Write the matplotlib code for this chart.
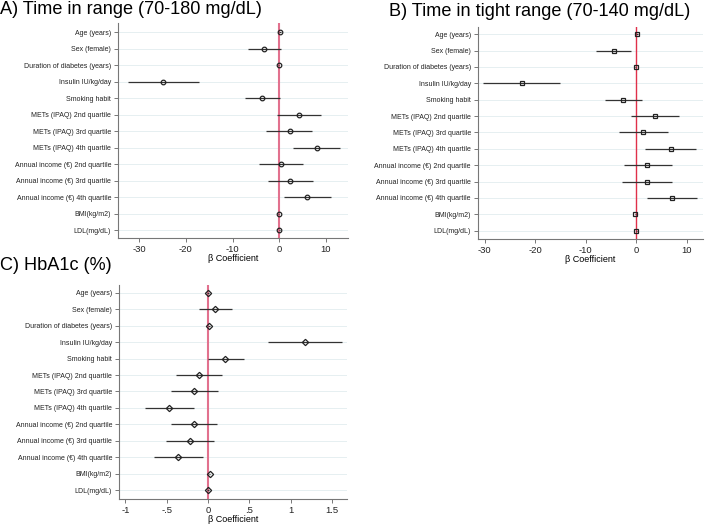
import matplotlib.pyplot as plt
import numpy as np

plt.rcParams['font.family'] = ['Liberation Sans', 'DejaVu Sans']

labels = ['Age (years)', 'Sex (female)', 'Duration of diabetes (years)', 'Insulin IU/kg/day',
          'Smoking habit', 'METs (IPAQ) 2nd quartile', 'METs (IPAQ) 3rd quartile',
          'METs (IPAQ) 4th quartile', 'Annual income (€) 2nd quartile',
          'Annual income (€) 3rd quartile', 'Annual income (€) 4th quartile',
          'BMI(kg/m2)', 'LDL(mg/dL)']

# A) time in range
tir_b = [0.2, -3.2, -0.1, -24.8, -3.6, 4.3, 2.2, 8.0, 0.35, 2.4, 6.0, -0.1, 0.0]
tir_lo = [0.0, -6.7, -0.2, -32.4, -7.3, -0.4, -2.8, 2.9, -4.4, -2.5, 1.0, -0.2, -0.1]
tir_hi = [0.4, 0.35, 0.0, -17.2, 0.1, 9.0, 7.1, 13.0, 5.1, 7.3, 11.0, 0.0, 0.1]

# B) time in tight range
titr_b = [0.1, -4.5, -0.1, -22.7, -2.6, 3.75, 1.4, 6.85, 2.2, 2.1, 7.1, -0.2, 0.0]
titr_lo = [-0.1, -8.0, -0.2, -30.3, -6.2, -1.05, -3.5, 1.7, -2.4, -2.9, 2.1, -0.3, -0.1]
titr_hi = [0.3, -1.05, 0.0, -15.1, 1.05, 8.5, 6.25, 11.9, 7.0, 7.0, 12.1, -0.1, 0.1]

# C) HbA1c
hba_b = [0.0, 0.09, 0.01, 1.18, 0.21, -0.11, -0.17, -0.47, -0.17, -0.22, -0.36, 0.02, 0.0]
hba_lo = [-0.01, -0.11, 0.0, 0.73, 0.0, -0.39, -0.45, -0.76, -0.45, -0.51, -0.66, 0.01, -0.01]
hba_hi = [0.01, 0.29, 0.02, 1.62, 0.44, 0.17, 0.12, -0.17, 0.11, 0.07, -0.06, 0.03, 0.01]

fig = plt.figure(figsize=(7.09, 5.31), dpi=100)

def panel(rect, b, lo, hi, marker, xlim, xticks, xticklabels, ylim, vcol, vlw):
    ax = fig.add_axes(rect)
    y = np.arange(len(labels))
    for yy in y:
        ax.axhline(yy, color='#e6eff1', lw=0.7, zorder=0)
    ax.axvline(0, color=vcol, lw=vlw, zorder=1)
    ax.hlines(y, lo, hi, color='#333333', lw=0.9, zorder=2)
    ax.plot(b, y, linestyle='none', marker=marker, ms=3.3 if marker != 'D' else 3.2,
            mfc='none', mec='#222222', mew=0.9, zorder=3)
    ax.set_xlim(xlim)
    ax.set_ylim(ylim)
    ax.set_yticks(y)
    ax.set_yticklabels(labels, fontsize=5)
    ax.set_xticks(xticks)
    ax.set_xticklabels(xticklabels, fontsize=6.8)
    ax.set_xlabel('β Coefficient', fontsize=6.5, labelpad=0)
    for s in ['top', 'right']:
        ax.spines[s].set_visible(False)
    for s in ['left', 'bottom']:
        ax.spines[s].set_color('#777777')
        ax.spines[s].set_linewidth(0.8)
    ax.tick_params(axis='both', colors='#777777', labelcolor='#222222', length=3, width=0.7, pad=2)
    return ax

panel([0.1664, 0.5518, 0.3244, 0.4049], tir_b, tir_lo, tir_hi, 'o',
      (-34.5, 14.7), [-30, -20, -10, 0, 10], ['-30', '-20', '-10', '0', '10'],
      (12.48, -0.55), '#e2718e', 1.5)
panel([0.6738, 0.5500, 0.3177, 0.3990], titr_b, titr_lo, titr_hi, 's',
      (-31.4, 13.2), [-30, -20, -10, 0, 10], ['-30', '-20', '-10', '0', '10'],
      (12.5, -0.43), '#e0304a', 1.0)
panel([0.1680, 0.0603, 0.3210, 0.4030], hba_b, hba_lo, hba_hi, 'D',
      (-1.077, 1.68), [-1, -0.5, 0, 0.5, 1, 1.5], ['-1', '-.5', '0', '.5', '1', '1.5'],
      (12.53, -0.47), '#e2718e', 1.5)

fig.text(0.0, 0.998, 'A) Time in range (70-180 mg/dL)', fontsize=13.1, va='top', ha='left')
fig.text(0.549, 0.995, 'B) Time in tight range (70-140 mg/dL)', fontsize=13.1, va='top', ha='left')
fig.text(0.0, 0.516, 'C) HbA1c (%)', fontsize=13.1, va='top', ha='left')

fig.savefig('out.png', dpi=100)
